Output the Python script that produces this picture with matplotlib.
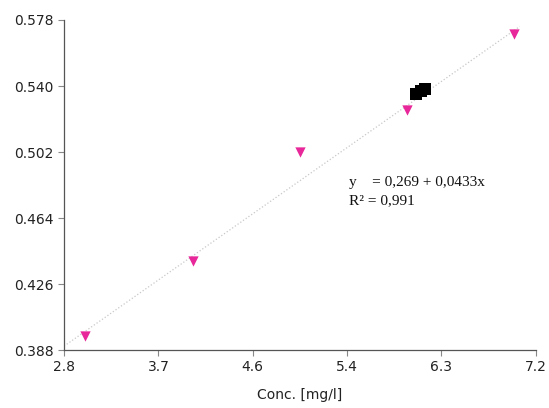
import numpy as np
import matplotlib
matplotlib.use("Agg")
import matplotlib.pyplot as plt

conc = [3.0, 4.0, 5.0, 6.0, 7.0]
absorb = [0.396, 0.439, 0.502, 0.526, 0.570]
sample_x = [6.08, 6.13, 6.17]
sample_y = [0.5355, 0.5370, 0.5385]
intercept = 0.269
slope = 0.0433
xticks = np.linspace(2.8, 7.2, 6)
xtick_labels = ["2.8", "3.7", "4.6", "5.4", "6.3", "7.2"]
yticks = [0.388, 0.426, 0.464, 0.502, 0.540, 0.578]
ytick_labels = ["0.388", "0.426", "0.464", "0.502", "0.540", "0.578"]

fig = plt.figure(figsize=(5.49, 4.08), dpi=100)
ax = fig.add_axes([0.1166, 0.142, 0.8594, 0.809])

lx = np.array([2.8, 7.05])
ax.plot(lx, intercept + slope * lx, color="#c8c8c8", lw=0.9, ls=":", zorder=1)
ax.scatter(conc, absorb, marker="v", s=55, color="#e8289a", zorder=3, linewidths=0)
ax.scatter(sample_x, sample_y, marker="s", s=70, color="black", zorder=4, linewidths=0)

ax.set_xlim(2.8, 7.2)
ax.set_ylim(0.388, 0.578)
ax.set_xticks(xticks)
ax.set_xticklabels(xtick_labels)
ax.set_yticks(yticks)
ax.set_yticklabels(ytick_labels)
for s in ["top", "right"]:
    ax.spines[s].set_visible(False)
for s in ["left", "bottom"]:
    ax.spines[s].set_color("#555555")
    ax.spines[s].set_linewidth(0.9)
ax.tick_params(axis="both", labelsize=10, colors="#222222", length=4, color="#888888")
ax.set_xlabel("Conc. [mg/l]", fontsize=10, color="#222222", labelpad=10)

ax.text(5.46, 0.4845, "y    = 0,269 + 0,0433x", family="Liberation Serif",
        fontsize=11, color="#111111", va="center")
ax.text(5.46, 0.4740, "R² = 0,991", family="Liberation Serif",
        fontsize=11, color="#111111", va="center")

fig.savefig("out.png", dpi=100)
